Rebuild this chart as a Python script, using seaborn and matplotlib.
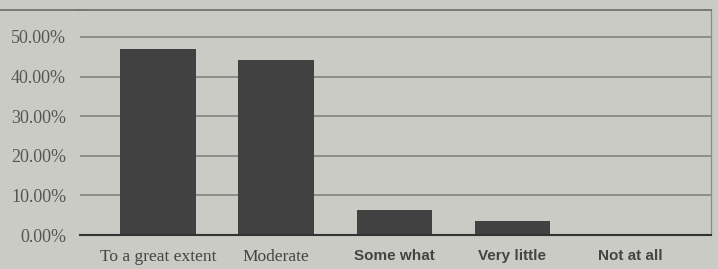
import matplotlib
matplotlib.use("Agg")
import matplotlib.pyplot as plt
import seaborn as sns
import pandas as pd

# data
categories = ["To a great extent", "Moderate", "Some what", "Very little", "Not at all"]
percent = [47.0, 44.2, 6.3, 3.6, 0.0]
y_ticks = [0, 10, 20, 30, 40, 50]
y_tick_labels = ["0.00%", "10.00%", "20.00%", "30.00%", "40.00%", "50.00%"]

df = pd.DataFrame({"category": categories, "percent": percent})

sns.set_style("white")
plt.rcParams["font.family"] = ["Liberation Serif", "DejaVu Serif"]

BG = "#cbcbc6"
fig = plt.figure(figsize=(7.18, 2.69), dpi=100, facecolor=BG)
ax = fig.add_axes([80 / 718, 34 / 269, 631 / 718, 225 / 269])
ax.set_facecolor(BG)

sns.barplot(data=df, x="category", y="percent", color="#414141",
            width=0.64, saturation=1, ax=ax, zorder=3)
for p in ax.patches:
    p.set_edgecolor("none")

ax.set_ylim(0, 56.8)
ax.set_xlim(-0.66, 4.68)
ax.set_yticks(y_ticks)
ax.set_yticklabels(y_tick_labels, fontsize=13, color="#555555")
ax.yaxis.grid(True, color="#7c7c7a", linewidth=1.1)
ax.set_axisbelow(True)
ax.tick_params(axis="both", length=0)
ax.tick_params(axis="y", pad=10)
ax.tick_params(axis="x", pad=10)
ax.set_xlabel("")
ax.set_ylabel("")

# first two labels serif, last three bold sans (as in the scan)
for i, lbl in enumerate(ax.get_xticklabels()):
    lbl.set_color("#444444")
    if i < 2:
        lbl.set_fontsize(12.5)
    else:
        lbl.set_family(["Liberation Sans", "DejaVu Sans"])
        lbl.set_fontsize(11)
        lbl.set_fontweight("bold")

ax.spines["left"].set_visible(False)
ax.spines["bottom"].set_color("#333333")
ax.spines["bottom"].set_linewidth(1.5)
ax.spines["bottom"].set_zorder(4)
ax.spines["top"].set_color("#6a6a68")
ax.spines["right"].set_color("#8a8a88")
ax.spines["top"].set_linewidth(1.2)
ax.spines["right"].set_linewidth(0.9)

# top rule of the frame runs to the left edge of the image
fig.add_artist(plt.Line2D([0, 80 / 718], [259 / 269, 259 / 269],
                          color="#6a6a68", linewidth=1.2))

fig.savefig("out.png", dpi=100, facecolor=BG)
